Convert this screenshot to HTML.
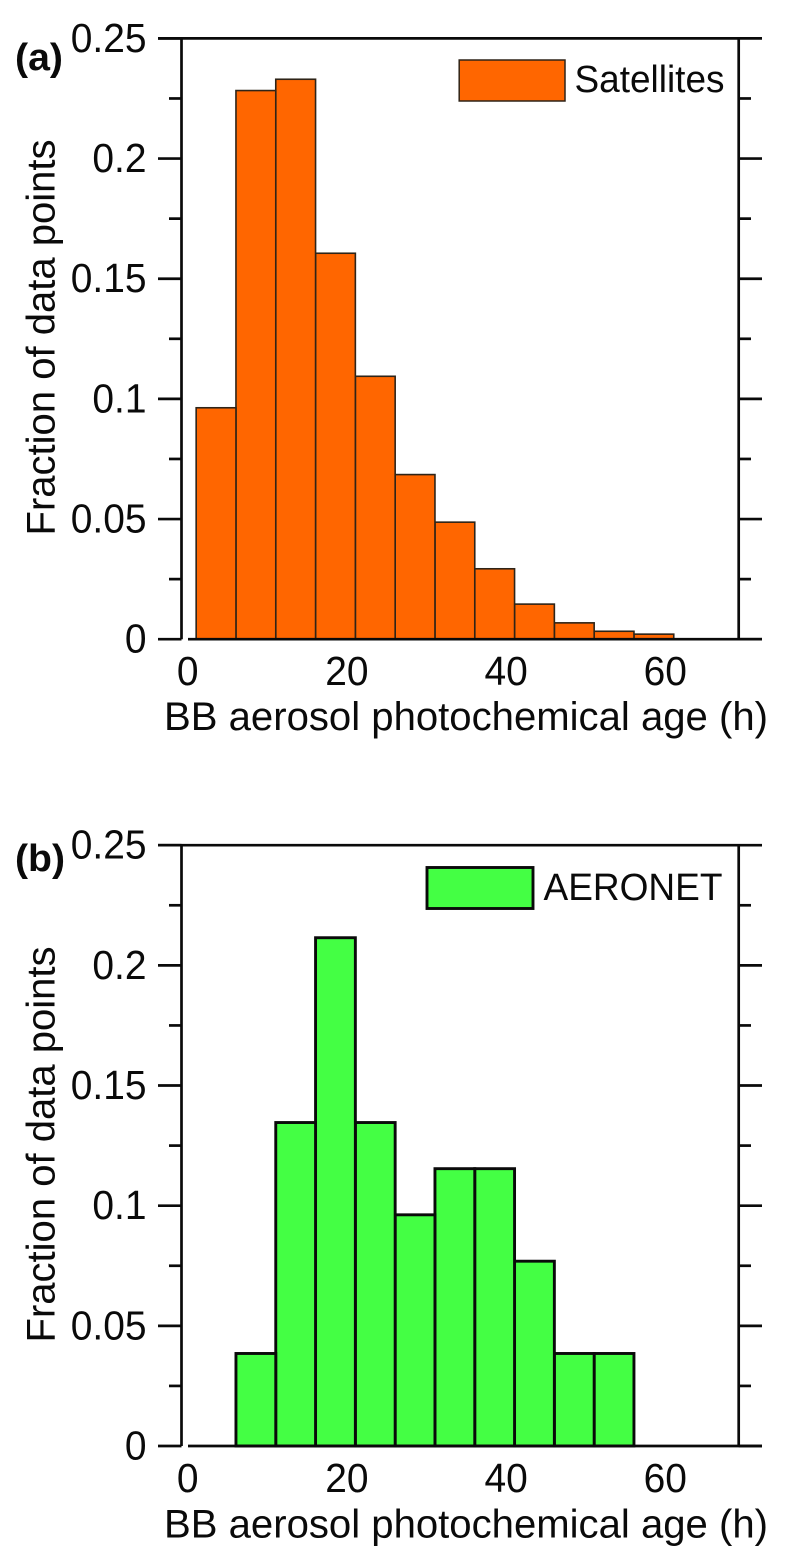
<!DOCTYPE html>
<html lang="en">
<head>
<meta charset="utf-8">
<title>BB aerosol photochemical age histograms</title>
<style>
  html, body { margin: 0; padding: 0; background: #fff; }
  svg { display: block; filter: blur(0.35px); }
  text { font-family: "Liberation Sans", Arial, sans-serif; fill: #0a0a0a; }
</style>
</head>
<body>
<svg id="figure" xmlns="http://www.w3.org/2000/svg" width="791" height="1568" viewBox="0 0 791 1568">
  <g id="panel-a">
    <text x="15" y="70" font-size="38" font-weight="bold" textLength="48" lengthAdjust="spacingAndGlyphs">(a)</text>
    <text transform="translate(54.5,535.5) rotate(-90)" font-size="40" textLength="396" lengthAdjust="spacingAndGlyphs">Fraction of data points</text>
    <text x="164" y="730" font-size="40" textLength="604" lengthAdjust="spacingAndGlyphs">BB aerosol photochemical age (h)</text>
    <rect x="459.2" y="60" width="105.8" height="41" fill="#ff6600" stroke="#2e2418" stroke-width="1.5"></rect>
    <text x="574.5" y="92" font-size="38" textLength="150" lengthAdjust="spacingAndGlyphs">Satellites</text>
  </g>
  <g id="panel-b">
    <text x="15" y="871" font-size="38" font-weight="bold" textLength="50" lengthAdjust="spacingAndGlyphs">(b)</text>
    <text transform="translate(54.5,1342.5) rotate(-90)" font-size="40" textLength="396" lengthAdjust="spacingAndGlyphs">Fraction of data points</text>
    <text x="164" y="1537.3" font-size="40" textLength="604" lengthAdjust="spacingAndGlyphs">BB aerosol photochemical age (h)</text>
    <rect x="427" y="867.5" width="106" height="41" fill="#44ff44" stroke="#0a0a0a" stroke-width="2.9"></rect>
    <text x="543.5" y="900" font-size="38" textLength="179" lengthAdjust="spacingAndGlyphs">AERONET</text>
  </g>
</svg>
<script>
// Histogram data
const binStarts = [1, 6, 11, 16, 21, 26, 31, 36, 41, 46, 51, 56, 61];
const binWidth = 5;
const satelliteFractions = [0.0963, 0.2283, 0.2330, 0.1606, 0.1094, 0.0685, 0.0487, 0.0293, 0.0146, 0.0068, 0.0033, 0.0021, 0];
const aeronetFractions = [0, 0.0385, 0.1346, 0.2115, 0.1346, 0.0962, 0.1154, 0.1154, 0.0769, 0.0385, 0.0385, 0, 0];
const yTickValues = [0, 0.05, 0.1, 0.15, 0.2, 0.25];
const yTickLabels = ['0', '0.05', '0.1', '0.15', '0.2', '0.25'];
const yMinorValues = [0.025, 0.075, 0.125, 0.175, 0.225];
const xTickValues = [0, 20, 40, 60];
const xTickLabels = ['0', '20', '40', '60'];

const svgNS = 'http://www.w3.org/2000/svg';
const axisWidth = 2.7;

function xScale(v) {
  return 188.2 + v * 7.96;
}
function yScaleFor(zeroY) {
  return function (v) {
    return zeroY - v * 2403.2;
  };
}
function line(parent, x1, y1, x2, y2, width, name) {
  const el = document.createElementNS(svgNS, 'line');
  el.setAttribute('x1', x1);
  el.setAttribute('y1', y1);
  el.setAttribute('x2', x2);
  el.setAttribute('y2', y2);
  el.setAttribute('stroke', '#0a0a0a');
  el.setAttribute('stroke-width', width);
  
  
  parent.appendChild(el);
}
function label(parent, x, y, anchor, content, name) {
  const el = document.createElementNS(svgNS, 'text');
  el.setAttribute('transform', 'translate(' + x + ',' + y + ') scale(0.95,1)');
  el.setAttribute('text-anchor', anchor);
  el.setAttribute('font-size', '41');
  
  
  el.textContent = content;
  parent.appendChild(el);
}
function drawPanel(panelId, prefix, zeroY, values, fill, stroke, strokeWidth) {
  const g = document.getElementById(panelId);
  const y = yScaleFor(zeroY);
  const left = 181.5;
  const right = 738.7;

  // bars, then baseline, then axes
  binStarts.forEach(function (start, i) {
    if (values[i] <= 0) return;
    const rect = document.createElementNS(svgNS, 'rect');
    rect.setAttribute('x', xScale(start));
    rect.setAttribute('y', y(values[i]));
    rect.setAttribute('width', xScale(start + binWidth) - xScale(start));
    rect.setAttribute('height', zeroY - y(values[i]));
    rect.setAttribute('fill', fill);
    rect.setAttribute('stroke', stroke);
    rect.setAttribute('stroke-width', strokeWidth);
    
    
    g.insertBefore(rect, g.firstChild);
  });

  line(g, 158, y(0.25), 762, y(0.25), axisWidth, prefix + '-top-axis');
  line(g, left, y(0.25), left, zeroY, axisWidth, prefix + '-left-axis');
  line(g, right, y(0.25), right, zeroY, axisWidth, prefix + '-right-axis');
  line(g, 188, zeroY, 762, zeroY, axisWidth, prefix + '-x-axis');

  yTickValues.forEach(function (v, i) {
    line(g, 158, y(v), left, y(v), axisWidth, prefix + '-y-major-tick-left');
    if (v < 0.25) {
      line(g, right, y(v), 762, y(v), axisWidth, prefix + '-y-major-tick-right');
    }
    label(g, 146.5, y(v) + 13.5, 'end', yTickLabels[i], prefix + '-y-tick-label');
  });
  yMinorValues.forEach(function (v) {
    line(g, 169, y(v), left, y(v), axisWidth, prefix + '-y-minor-tick-left');
    line(g, right, y(v), 751, y(v), axisWidth, prefix + '-y-minor-tick-right');
  });
  xTickValues.forEach(function (v, i) {
    label(g, xScale(v) - 0.5, zeroY + 46, 'middle', xTickLabels[i], prefix + '-x-tick-label');
  });
}

drawPanel('panel-a', 'satellites', 639.2, satelliteFractions, '#ff6600', '#2e2418', 1.6);
drawPanel('panel-b', 'aeronet', 1446, aeronetFractions, '#44ff44', '#0a0a0a', 2.9);
</script>
</body>
</html>
